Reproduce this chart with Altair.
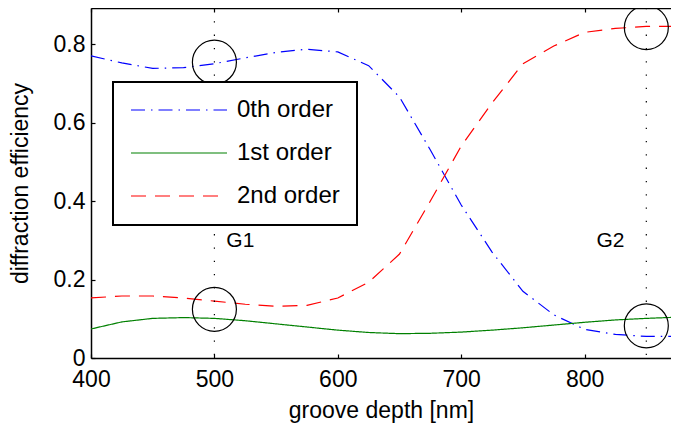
import altair as alt
import pandas as pd

# ---- data ----
depth = [400, 425, 450, 475, 500, 525, 550, 575, 600, 625,
         650, 675, 700, 725, 750, 775, 800, 825, 850, 875]
order0 = [0.770, 0.752, 0.738, 0.740, 0.750, 0.765, 0.779, 0.787, 0.780, 0.745,
          0.665, 0.530, 0.390, 0.270, 0.170, 0.110, 0.073, 0.060, 0.055, 0.055]
order1 = [0.074, 0.092, 0.101, 0.103, 0.101, 0.095, 0.087, 0.079, 0.071, 0.065,
          0.062, 0.063, 0.066, 0.071, 0.077, 0.084, 0.091, 0.097, 0.101, 0.104]
order2 = [0.153, 0.158, 0.158, 0.153, 0.145, 0.137, 0.132, 0.134, 0.153, 0.193,
          0.265, 0.400, 0.540, 0.650, 0.750, 0.795, 0.830, 0.840, 0.845, 0.845]
series = ["0th order", "1st order", "2nd order"]
colors = ["#0000ff", "#008000", "#ff0000"]
dashes = [[14, 6, 1.5, 6], [1, 0], [15, 9]]

marker_x = [500, 850]
circle_x = [500, 500, 850, 850]
circle_y = [0.754, 0.124, 0.842, 0.082]
label_text = ["G1", "G2"]
label_x = [521, 821]
label_y = [0.299, 0.299]

x_ticks = [400, 500, 600, 700, 800]
y_ticks = [0, 0.2, 0.4, 0.6, 0.8]

FONT = "Liberation Sans"

rows = []
for name, vals in zip(series, [order0, order1, order2]):
    for d, v in zip(depth, vals):
        rows.append({"depth": d, "value": v, "order": name})
df = pd.DataFrame(rows)

xscale = alt.Scale(domain=[400, 870], nice=False, zero=False)
yscale = alt.Scale(domain=[0, 0.892], nice=False, zero=False)

x_bottom = alt.Axis(values=x_ticks, title="groove depth [nm]", tickSize={"expr": "-4"},
                    labelPadding=14, titlePadding=8, grid=False, orient="bottom",
                    labelFlush=False, labelOverlap=False)
y_left = alt.Axis(values=y_ticks, title="diffraction efficiency", tickSize={"expr": "-4"},
                  labelPadding=10, titlePadding=21, grid=False,
                  labelFlush=False, labelOverlap=False,
                  labelExpr="datum.value == 0 ? '0' : format(datum.value, '.1f')")
x_top = alt.Axis(values=x_ticks, orient="top", labels=False, title=None,
                 tickSize={"expr": "-4"}, grid=False)

legend = alt.Legend(title=None, orient="none", legendX=22, legendY=74,
                    symbolType="stroke", symbolSize=9216, symbolStrokeWidth=1.2,
                    clipHeight=22, labelFontSize=24, labelFont=FONT, labelOffset=9,
                    labelExpr="datum.label + '  '",
                    padding=17, rowPadding=19, strokeColor="black", fillColor="white")

lines = alt.Chart(df).mark_line(strokeWidth=1.2, clip=True).encode(
    x=alt.X("depth:Q", scale=xscale, axis=x_bottom),
    y=alt.Y("value:Q", scale=yscale, axis=y_left),
    stroke=alt.Stroke("order:N", scale=alt.Scale(domain=series, range=colors), legend=legend),
    strokeDash=alt.StrokeDash("order:N", scale=alt.Scale(domain=series, range=dashes), legend=legend),
)

rules = alt.Chart(pd.DataFrame({"x": marker_x})).mark_rule(
    color="black", strokeWidth=1.2, strokeDash=[1.3, 12]
).encode(x=alt.X("x:Q", scale=xscale, axis=x_top))

circles = alt.Chart(pd.DataFrame({"x": circle_x, "y": circle_y})).mark_point(
    shape="circle", size=1936, filled=False, color="black", strokeWidth=1.2, opacity=1
).encode(x=alt.X("x:Q", scale=xscale, axis=None), y=alt.Y("y:Q", scale=yscale, axis=y_left))

labels = alt.Chart(pd.DataFrame({"x": label_x, "y": label_y, "t": label_text})).mark_text(
    font=FONT, fontSize=21, color="black", align="center", baseline="middle"
).encode(x=alt.X("x:Q", scale=xscale, axis=None), y=alt.Y("y:Q", scale=yscale, axis=y_left), text="t:N")

chart = alt.layer(lines, rules, circles, labels).resolve_axis(x="independent").properties(
    width=580, height=350,
    autosize=alt.AutoSizeParams(type="none"),
    padding={"left": 83, "top": 0, "right": 0, "bottom": 70},
).configure_view(stroke=None).configure_axis(
    labelFont=FONT, titleFont=FONT, labelFontSize=23, titleFontSize=23,
    labelColor="black", titleColor="black", titleFontWeight="normal",
    domainColor="black", tickColor="black", domainWidth=1.5, tickWidth=1.2,
).configure_legend(strokeWidth=2)

chart.save("out.html", embed_options={"renderer": "svg", "actions": False})
